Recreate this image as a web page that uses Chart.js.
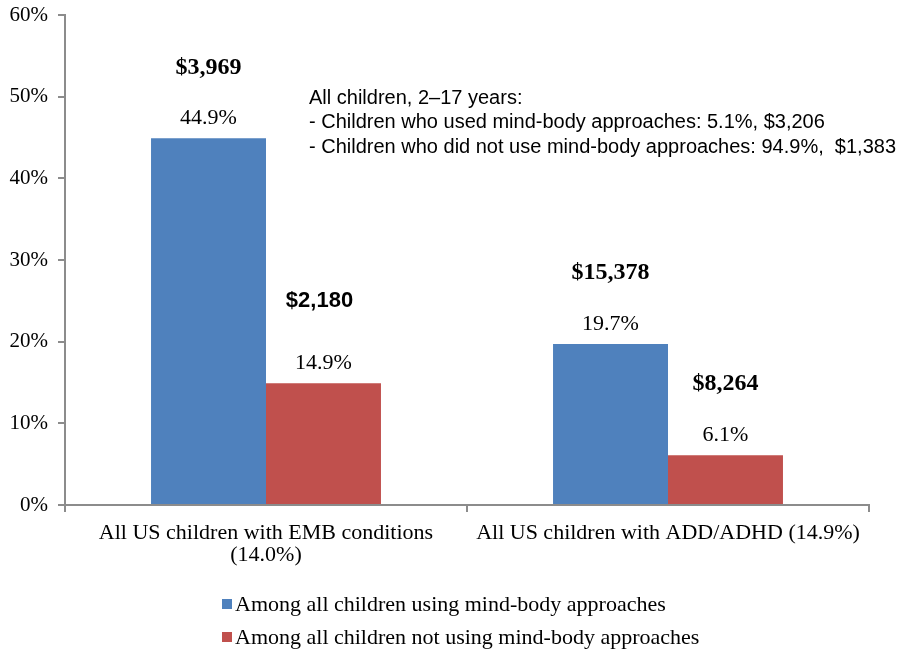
<!DOCTYPE html>
<html>
<head>
<meta charset="utf-8">
<script src="https://cdn.jsdelivr.net/npm/chart.js@4"></script>
<style>
  html, body { margin: 0; padding: 0; background: #fff; }
  #wrap { width: 900px; height: 651px; }
</style>
</head>
<body>
<div id="wrap"><canvas id="chart" width="900" height="651"></canvas></div>
<script>
const categories = [['All US children with EMB conditions', '(14.0%)'], 'All US children with ADD/ADHD (14.9%)'];
const seriesNames = ['Among all children using mind-body approaches', 'Among all children not using mind-body approaches'];
const usingValues = [44.9, 19.7];
const notUsingValues = [14.9, 6.1];
const usingCosts = ['$3,969', '$15,378'];
const notUsingCosts = ['$2,180', '$8,264'];
const noteLines = [
    'All children, 2\u201317 years:',
    '- Children who used mind-body approaches: 5.1%, $3,206',
    '- Children who did not use mind-body approaches: 94.9%,  $1,383'
];

const SERIF = '"Liberation Serif", "Times New Roman", serif';
const SANS = '"Liberation Sans", Arial, sans-serif';
const colors = ['#4F81BD', '#C0504D'];

// labels above the bars, the note and the legend
const overlay = {
    id: 'overlay',
    afterDatasetsDraw(chart) {
        const ctx = chart.ctx;
        ctx.save();
        ctx.fillStyle = '#000';
        ctx.textAlign = 'center';
        ctx.textBaseline = 'middle';
        const costs = [usingCosts, notUsingCosts];
        chart.data.datasets.forEach((ds, di) => {
            chart.getDatasetMeta(di).data.forEach((bar, i) => {
                ctx.font = '22px ' + SERIF;
                ctx.fillText(ds.data[i].toFixed(1) + '%', bar.x, bar.y - 20);
                if (di === 1 && i === 0) {
                    // this one is set in a sans face in the original
                    ctx.font = 'bold 22px ' + SANS;
                    ctx.fillText(costs[di][i], bar.x - 4, bar.y - 82);
                } else {
                    ctx.font = 'bold 24px ' + SERIF;
                    ctx.fillText(costs[di][i], bar.x, bar.y - 71);
                }
            });
        });

        // note block
        ctx.textAlign = 'left';
        ctx.font = '20px ' + SANS;
        ctx.fillText(noteLines[0], 309, 98);
        ctx.fillText(noteLines[1], 309, 122);
        ctx.fillText(noteLines[2], 309, 147);

        // legend
        ctx.font = '22px ' + SERIF;
        seriesNames.forEach((name, i) => {
            const y = 604 + i * 33;
            ctx.fillStyle = colors[i];
            ctx.fillRect(222, y - 5, 10, 10);
            ctx.fillStyle = '#000';
            ctx.fillText(name, 235, y + 1);
        });
        ctx.restore();
    }
};

new Chart(document.getElementById('chart'), {
    type: 'bar',
    data: {
        labels: categories,
        datasets: [
            { label: seriesNames[0], data: usingValues, backgroundColor: colors[0] },
            { label: seriesNames[1], data: notUsingValues, backgroundColor: colors[1] }
        ]
    },
    options: {
        responsive: false,
        animation: false,
        layout: { padding: { top: 15, right: 31, bottom: 80, left: 0 } },
        plugins: {
            legend: { display: false },
            tooltip: { enabled: false }
        },
        datasets: {
            bar: { barPercentage: 1, categoryPercentage: 0.572 }
        },
        scales: {
            x: {
                grid: { drawOnChartArea: false, drawTicks: true, tickLength: 7, color: '#8c8c8c', lineWidth: 2 },
                border: { color: '#8c8c8c', width: 2 },
                ticks: { color: '#000', font: { family: SERIF, size: 22, lineHeight: 1.0 }, padding: 10, maxRotation: 0 },
                afterFit: s => { s.height = 66; }
            },
            y: {
                min: 0,
                max: 60,
                grid: { drawOnChartArea: false, drawTicks: true, tickLength: 7, color: '#8c8c8c', lineWidth: 2 },
                border: { color: '#8c8c8c', width: 2 },
                ticks: {
                    stepSize: 10,
                    color: '#000',
                    padding: 10,
                    font: { family: SERIF, size: 21 },
                    callback: v => v + '%'
                },
                afterFit: s => { s.width = 65; s.paddingTop = 0; s.paddingBottom = 0; }
            }
        }
    },
    plugins: [overlay]
});
</script>
</body>
</html>
